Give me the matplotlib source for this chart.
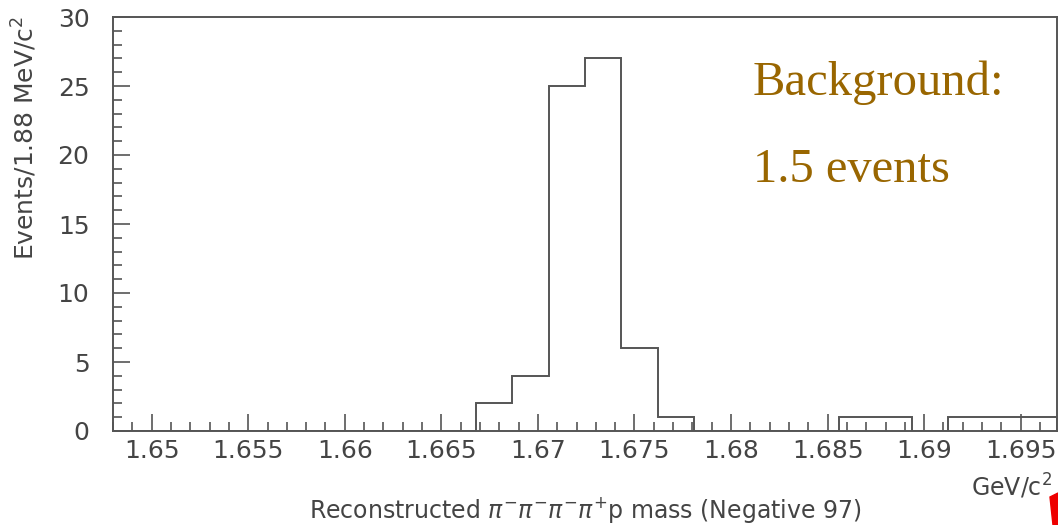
import numpy as np
import matplotlib.pyplot as plt
from matplotlib.patches import Polygon
from matplotlib.ticker import MultipleLocator

# histogram: 26 bins of 1.88 MeV starting at 1.648 GeV
bin_start = 1.648
bin_width = 0.00188
counts = [0, 0, 0, 0, 0, 0, 0, 0, 0, 0,
          2, 4, 25, 27, 6, 1, 0, 0, 0, 0,
          1, 1, 0, 1, 1, 1]
edges = bin_start + bin_width * np.arange(len(counts) + 1)

xticks = [1.65, 1.655, 1.66, 1.665, 1.67, 1.675, 1.68, 1.685, 1.69, 1.695]
xticklabels = ['1.65', '1.655', '1.66', '1.665', '1.67', '1.675', '1.68', '1.685', '1.69', '1.695']
yticks = [0, 5, 10, 15, 20, 25, 30]

W, H = 1058, 525
grey = '#555555'
txt = '#444444'

plt.rcParams['mathtext.fontset'] = 'dejavusans'

fig = plt.figure(figsize=(W / 100, H / 100), dpi=100)
ax = fig.add_axes([113 / W, (H - 431) / H, (1057 - 113) / W, (431 - 17) / H])

ax.stairs(counts, edges, color=grey, linewidth=1.4)

ax.set_xlim(edges[0], edges[-1])
ax.set_ylim(0, 30)
ax.set_xticks(xticks)
ax.set_xticklabels(xticklabels)
ax.set_yticks(yticks)
ax.xaxis.set_minor_locator(MultipleLocator(0.001))
ax.yaxis.set_minor_locator(MultipleLocator(1))
ax.tick_params(which='both', direction='in', color=grey, width=1.2,
               labelcolor=txt, labelsize=18, top=False, right=False)
ax.tick_params(which='major', length=12)
ax.tick_params(which='minor', length=6.5)
ax.tick_params(axis='y', pad=17)
ax.tick_params(axis='x', pad=6)
for s in ax.spines.values():
    s.set_color(grey)
    s.set_linewidth(1.4)

fig.text(25 / W, 1 - 138 / H, 'Events/1.88 MeV/c$^2$', rotation=90,
         ha='center', va='center', fontsize=18, color=txt)
fig.text(585 / W, 1 - 510 / H,
         r'Reconstructed $\pi^{-}\pi^{-}\pi^{-}\pi^{+}$p mass (Negative 97)',
         ha='center', va='center', fontsize=17, color=txt)
fig.text(1052 / W, 1 - 487 / H, 'GeV/c$^2$', ha='right', va='center',
         fontsize=17, color=txt)

fig.text(753 / W, 1 - 95 / H, 'Background:', ha='left', va='baseline',
         fontsize=35, color='#996600', family='Liberation Serif')
fig.text(753 / W, 1 - 182 / H, '1.5 events', ha='left', va='baseline',
         fontsize=35, color='#996600', family='Liberation Serif')

# red cursor fragment at the bottom right corner
fig.patches.append(Polygon([(1050 / W, 1 - 497 / H), (1058 / W, 1 - 493 / H),
                            (1058 / W, 0), (1053 / W, 0)],
                           closed=True, transform=fig.transFigure,
                           color='#ee0000', zorder=5))

fig.savefig('out.png', dpi=100)
